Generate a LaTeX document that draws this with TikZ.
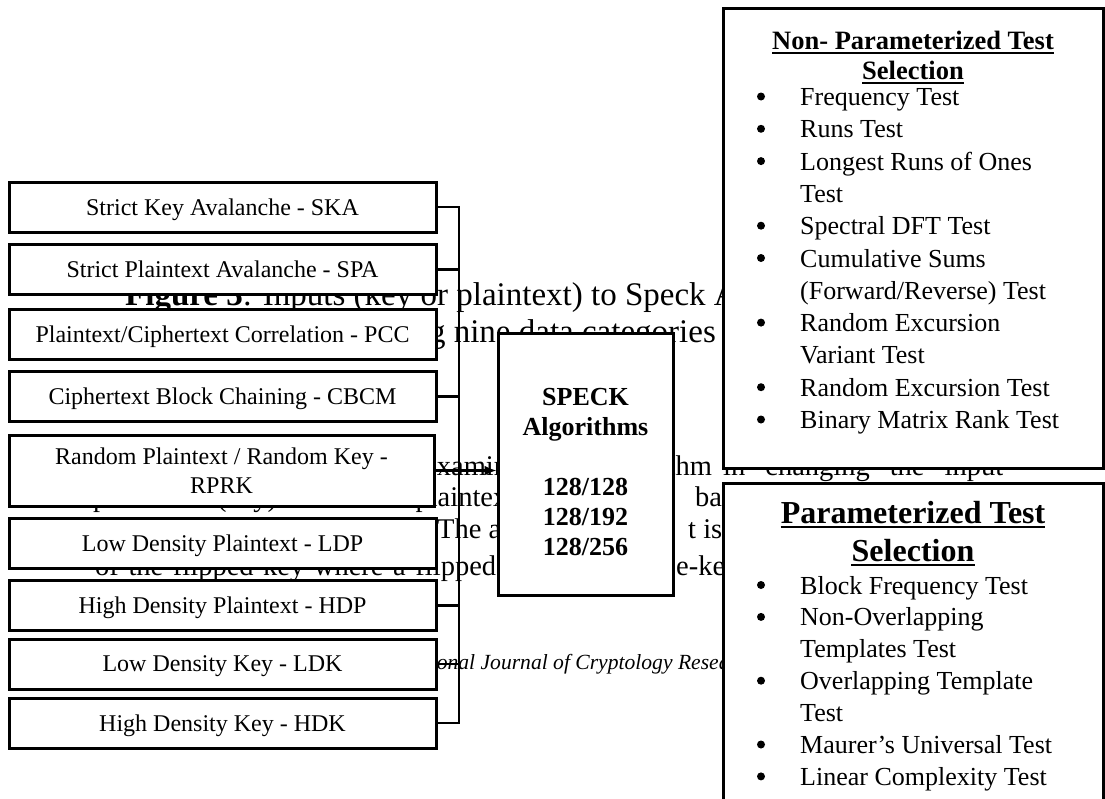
\documentclass[tikz,border=0pt]{standalone}
\usepackage{fontspec}
\setmainfont{Liberation Serif}
\usetikzlibrary{arrows.meta}
\begin{document}
\begin{tikzpicture}[x=1pt,y=-1pt,
 lbox/.style={draw, line width=3pt, fill=white, minimum width=427pt, minimum height=50pt, inner sep=0pt, align=center, text depth=0pt, font=\fontsize{24}{29}\selectfont},
 conn/.style={line width=2.7pt},
 bigbox/.style={draw, line width=3pt, fill=white, inner sep=0pt},
 ttl/.style={inner sep=0pt, anchor=base, font=\fontsize{26.5}{30}\selectfont\bfseries},
 ttlb/.style={inner sep=0pt, anchor=base, font=\fontsize{32}{37}\selectfont\bfseries},
 itm/.style={inner sep=0pt, anchor=base west, font=\fontsize{26}{32}\selectfont},
 bul/.style={circle, fill=black, inner sep=0pt, minimum size=8pt, yshift=9pt},
 uline/.style={line width=2.2pt},
 bleed/.style={inner sep=0pt, anchor=base west, font=\fontsize{28.5}{34}\selectfont},
 capt/.style={inner sep=0pt, anchor=base west, font=\fontsize{33}{38}\selectfont},
 ital/.style={inner sep=0pt, anchor=base west, font=\fontsize{21.6}{25}\selectfont\itshape},
]
\useasboundingbox (0,0) rectangle (1105,798);
\clip (0,0) rectangle (1105,798);

% ---- page text showing through behind the figure ----
\node[capt] (c1) at (125,305) {\textbf{Figure 3}: Inputs (key or plaintext) to Speck Algorithms};
\node[capt, anchor=base east] (c2) at (716,342) {using nine data categories};
\node[bleed] (b1) at (424,475) {examine};
\node[bleed] (b2) at (601,475) {algorithm};
\node[bleed] (b3) at (723,475) {\makebox[280pt][s]{in changing the input}};
\node[bleed] (b4) at (93,506) {\makebox[422pt][s]{parameter (key). The zero plaintext}};
\node[bleed] (b5) at (695,506) {based};
\node[bleed] (b6) at (437,538) {The a};
\node[bleed] (b7) at (688,538) {t is};
\node[bleed] (b8) at (95,575) {\makebox[401pt][s]{of the flipped-key where a flipped}};
\node[bleed] (b9) at (676,575) {e-key};
\node[ital] (b10) at (361,669) {International Journal of Cryptology Research};

% ---- input category boxes ----
\node[lbox] (ska)  at (222.5,207)   {Strict Key Avalanche - SKA};
\node[lbox] (spa)  at (222.5,269.5) {Strict Plaintext Avalanche - SPA};
\node[lbox] (pcc)  at (222.5,334.5) {Plaintext/Ciphertext Correlation - PCC};
\node[lbox] (cbcm) at (222.5,396.5) {Ciphertext Block Chaining - CBCM};
\node[lbox, minimum width=425pt, minimum height=71pt] (rprk) at (221.5,470.5) {Random Plaintext / Random Key -\\RPRK};
\node[lbox] (ldp)  at (222.5,543)   {Low Density Plaintext - LDP};
\node[lbox] (hdp)  at (222.5,605.5) {High Density Plaintext - HDP};
\node[lbox] (ldk)  at (222.5,664)   {Low Density Key - LDK};
\node[lbox] (hdk)  at (222.5,723)   {High Density Key - HDK};

% ---- SPECK box ----
\node[bigbox, minimum width=175pt, minimum height=262pt] (speck) at (585.5,464) {};
\node[inner sep=0pt, align=center, font=\fontsize{26}{30}\selectfont\bfseries] (specklbl) at (585.5,472) {SPECK\\Algorithms\\[30pt]128/128\\128/192\\128/256};

% ---- connectors ----
\coordinate (bus) at (459,0);
\draw[conn] (ska.east) -- (ska.east -| bus) -- (hdk.east -| bus) -- (hdk.east);
\draw[conn] (spa.east) -- (spa.east -| bus);
\draw[conn] (cbcm.east) -- (cbcm.east -| bus);
\draw[conn] (hdp.east) -- (hdp.east -| bus);
\draw[conn] (ldk.east) -- (ldk.east -| bus);
\draw[conn, -{Latex[length=12pt,width=10pt]}] (rprk.east) -- (rprk.east -| speck.west);

% ---- Non-parameterized box ----
\node[bigbox, minimum width=380pt, minimum height=460pt] (npbox) at (913,238) {};
\node[ttl] (npt1) at (913,49) {Non- Parameterized Test};
\node[ttl] (npt2) at (913,79) {Selection};
\draw[uline] ([yshift=-4pt]npt1.base west) -- ([yshift=-4pt]npt1.base east);
\draw[uline] ([yshift=-4pt]npt2.base west) -- ([yshift=-4pt]npt2.base east);
\node[bul] (npb0) at (761,105.5) {}; \node[itm] (np0) at (800,105.5) {Frequency Test};
\node[bul] (npb1) at (761,137.8) {}; \node[itm] (np1) at (800,137.8) {Runs Test};
\node[bul] (npb2) at (761,170.1) {}; \node[itm] (np2) at (800,170.1) {Longest Runs of Ones};
\node[itm] (np3) at (800,202.4) {Test};
\node[bul] (npb4) at (761,234.7) {}; \node[itm] (np4) at (800,234.7) {Spectral DFT Test};
\node[bul] (npb5) at (761,267.0) {}; \node[itm] (np5) at (800,267.0) {Cumulative Sums};
\node[itm] (np6) at (800,299.3) {(Forward/Reverse) Test};
\node[bul] (npb7) at (761,331.6) {}; \node[itm] (np7) at (800,331.6) {Random Excursion};
\node[itm] (np8) at (800,363.9) {Variant Test};
\node[bul] (npb9) at (761,396.2) {}; \node[itm] (np9) at (800,396.2) {Random Excursion Test};
\node[bul] (npb10) at (761,428.5) {}; \node[itm] (np10) at (800,428.5) {Binary Matrix Rank Test};

% ---- Parameterized box ----
\node[bigbox, minimum width=380pt, minimum height=337pt] (pbox) at (913,651.5) {};
\node[ttlb] (pt1) at (913,523) {Parameterized Test};
\node[ttlb] (pt2) at (913,561) {Selection};
\draw[uline] ([yshift=-4pt]pt1.base west) -- ([yshift=-4pt]pt1.base east);
\draw[uline] ([yshift=-4pt]pt2.base west) -- ([yshift=-4pt]pt2.base east);
\node[bul] (pb0) at (761,594) {}; \node[itm] (p0) at (800,594) {Block Frequency Test};
\node[bul] (pb1) at (761,625.9) {}; \node[itm] (p1) at (800,625.9) {Non-Overlapping};
\node[itm] (p2) at (800,657.8) {Templates Test};
\node[bul] (pb3) at (761,689.7) {}; \node[itm] (p3) at (800,689.7) {Overlapping Template};
\node[itm] (p4) at (800,721.6) {Test};
\node[bul] (pb5) at (761,753.5) {}; \node[itm] (p5) at (800,753.5) {Maurer’s Universal Test};
\node[bul] (pb6) at (761,785.4) {}; \node[itm] (p6) at (800,785.4) {Linear Complexity Test};
\end{tikzpicture}
\end{document}
